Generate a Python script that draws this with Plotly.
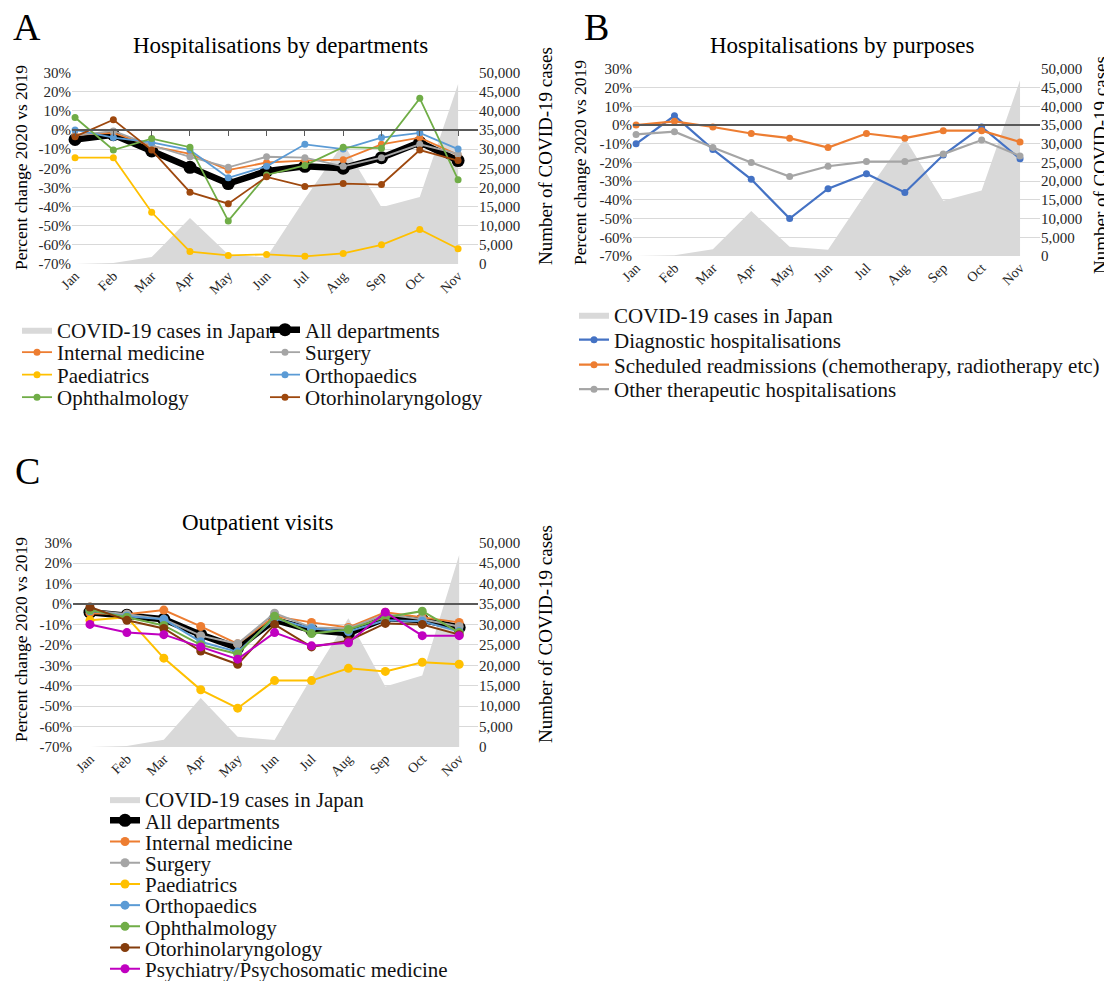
import plotly.graph_objects as go

# ---------------- data ----------------
months = ["Jan", "Feb", "Mar", "Apr", "May", "Jun", "Jul", "Aug", "Sep", "Oct", "Nov"]
covid_cases = [14, 230, 1800, 12000, 2500, 1700, 17000, 31500, 14800, 17500, 47000]

# Panel A: hospitalisations by departments (% change 2020 vs 2019)
a_all = [-5, -2.5, -11, -19.5, -28, -21.5, -19, -20, -14.5, -6.5, -16]
a_internal = [-2.5, -1.5, -8.5, -12.5, -21, -17, -16, -15.5, -7.5, -4, -13]
a_surgery = [-3, -0.5, -8, -14, -19.5, -14, -14.5, -19, -14.5, -7.5, -12.5]
a_paed = [-14.5, -14.5, -43, -63.5, -65.5, -65, -66, -64.5, -60, -52, -62]
a_ortho = [0, -4, -6.5, -10.5, -25, -19, -7.5, -10, -4, -1.5, -10]
a_ophth = [6.5, -10.5, -4.5, -9, -47.5, -23.5, -18.5, -9, -9.5, 16.5, -26]
a_ent = [-3.5, 5.3, -10.5, -32.5, -38.5, -24.5, -29.5, -28, -28.5, -10.5, -16]

# Panel B: hospitalisations by purposes
b_diag = [-10, 5, -13, -29, -50, -34, -26, -36, -16, -1, -18]
b_sched = [0, 2, -1, -4.5, -7, -12, -4.5, -7, -3, -3, -9]
b_other = [-5, -3.5, -12, -20, -27.5, -22, -19.5, -19.5, -15.5, -8, -16.5]

# Panel C: outpatient visits
c_all = [-4, -5.5, -7.5, -15, -21.5, -7.8, -12.7, -14.3, -7, -7.8, -11.5]
c_internal = [-4.5, -5, -3, -11, -19.5, -6, -9, -11.5, -4, -6.5, -9]
c_surgery = [-3, -5, -7.5, -15.5, -19.5, -4.5, -11.5, -12, -5, -7.5, -11]
c_paed = [-8, -6.5, -26.5, -42, -51, -37.5, -37.5, -31.5, -33, -28.5, -29.5]
c_ortho = [-3.3, -6, -7.5, -18.5, -23.5, -7, -12, -13.5, -8, -8.5, -13.5]
c_ophth = [-3, -6.5, -10.5, -20, -24.5, -6, -14.5, -12.5, -6.5, -3.5, -14]
c_ent = [-1.5, -8, -12, -23, -29.5, -10, -21, -18, -9.5, -10, -15]
c_psych = [-10, -14, -15, -21, -27, -14, -20.5, -19, -4, -15.5, -15.5]

pct_ticks = list(range(-70, 31, 10))
pct_labels = [f"{v}%" for v in pct_ticks]
case_ticks = list(range(0, 50001, 5000))

# ---------------- styling ----------------
PAGE_OFF = 8                 # default body margin of the html page
W, H = 1112 - PAGE_OFF, 981 - PAGE_OFF
FONT = "Liberation Serif"
TICKC = "#262626"
ORANGE, GRAY, YELLOW, BLUE, GREEN, BROWN = "#ED7D31", "#A5A5A5", "#FFC000", "#5B9BD5", "#70AD47", "#9E480E"
DBLUE, DBROWN, MAGENTA = "#4472C4", "#843C0C", "#C000C0"
AREA = "#D9D9D9"


def px(x):
    return (x - PAGE_OFF) / W


def py(y):
    return 1 - (y - PAGE_OFF) / H


fig = go.Figure()

panels = {
    "A": dict(base=1, xd=(72, 478), top=72.5, bot=264, rng=[-0.08, 10.52], ticks=True),
    "B": dict(base=3, xd=(633, 1040), top=69, bot=256, rng=[-0.08, 10.52], ticks=False),
    "C": dict(base=5, xd=(73, 478), top=542.7, bot=747, rng=[-0.46, 10.51], ticks=False),
}

layout = {}
for key, p in panels.items():
    b = p["base"]
    o = b + 1
    bs = "" if b == 1 else str(b)
    os_ = str(o)
    ydom = [py(p["bot"]), py(p["top"])]
    layout["xaxis" + bs] = dict(
        domain=[px(p["xd"][0]), px(p["xd"][1])], anchor="y" + bs, type="category",
        categoryorder="array", categoryarray=months, range=p["rng"], automargin=False,
        tickangle=-45, showgrid=False, zeroline=False, showline=False, ticks="",
        tickfont=dict(family=FONT, size=14, color=TICKC))
    layout["yaxis" + bs] = dict(
        domain=ydom, anchor="x" + bs, side="right", range=[0, 50000], tickvals=case_ticks,
        tickformat=",", showgrid=True, gridcolor="#D9D9D9", gridwidth=1, zeroline=False,
        showline=False, ticks="", automargin=False,
        tickfont=dict(family=FONT, size=15, color=TICKC))
    zero_pos = ydom[0] + 0.7 * (ydom[1] - ydom[0])
    layout["xaxis" + os_] = dict(
        overlaying="x" + bs, anchor="free", position=zero_pos, type="category",
        categoryorder="array", categoryarray=months, range=p["rng"], automargin=False,
        showticklabels=False, showgrid=False, zeroline=False, showline=True,
        linecolor="#595959", linewidth=1.5, layer="above traces",
        ticks="outside" if p["ticks"] else "", ticklen=5, tickcolor="#595959", tickwidth=1)
    layout["yaxis" + os_] = dict(
        overlaying="y" + bs, anchor="x" + bs, side="left", range=[-70, 30],
        tickmode="array", tickvals=pct_ticks, ticktext=pct_labels, automargin=False,
        showgrid=False, zeroline=False, showline=False, ticks="",
        tickfont=dict(family=FONT, size=15, color=TICKC))

legend_count = [0]
legends = {}


def add_legend(lx, ly):
    legend_count[0] += 1
    n = legend_count[0]
    name = "legend" if n == 1 else f"legend{n}"
    legends[name] = dict(
        x=px(lx), y=py(ly), xanchor="left", yanchor="middle", bgcolor="rgba(0,0,0,0)",
        font=dict(family=FONT, size=21, color="#111111"), itemwidth=30,
        borderwidth=0, tracegroupgap=0)
    return name


def add_area(panel, lx, ly):
    b = panels[panel]["base"]
    bs = "" if b == 1 else str(b)
    fig.add_trace(go.Scatter(
        x=months, y=covid_cases, name="COVID-19 cases in Japan", mode="lines",
        fill="tozeroy", fillcolor=AREA, line=dict(width=0, color=AREA),
        xaxis="x" + bs, yaxis="y" + bs, legend=add_legend(lx, ly)))


def add_line(panel, name, vals, color, lx, ly, width=1.8, msize=7):
    o = panels[panel]["base"] + 1
    fig.add_trace(go.Scatter(
        x=months, y=vals, name=name, mode="lines+markers",
        line=dict(color=color, width=width), marker=dict(color=color, size=msize),
        cliponaxis=False, xaxis="x" + str(o), yaxis="y" + str(o),
        legend=add_legend(lx, ly)))


# Panel A
c1, c2 = 17, 265
rowsA = [330, 352.5, 375, 397.5]
add_area("A", c1, rowsA[0])
add_line("A", "All departments", a_all, "#000000", c2, rowsA[0], width=6.5, msize=13)
add_line("A", "Internal medicine", a_internal, ORANGE, c1, rowsA[1])
add_line("A", "Surgery", a_surgery, GRAY, c2, rowsA[1])
add_line("A", "Paediatrics", a_paed, YELLOW, c1, rowsA[2])
add_line("A", "Orthopaedics", a_ortho, BLUE, c2, rowsA[2])
add_line("A", "Ophthalmology", a_ophth, GREEN, c1, rowsA[3])
add_line("A", "Otorhinolaryngology", a_ent, BROWN, c2, rowsA[3])

# Panel B
cb = 574
rowsB = [315, 340, 365, 389.5]
add_area("B", cb, rowsB[0])
add_line("B", "Diagnostic hospitalisations", b_diag, DBLUE, cb, rowsB[1], width=2.2)
add_line("B", "Scheduled readmissions (chemotherapy, radiotherapy etc)", b_sched, ORANGE, cb, rowsB[2], width=2.2)
add_line("B", "Other therapeutic hospitalisations", b_other, GRAY, cb, rowsB[3], width=2.2)

# Panel C
cc = 105
rowsC = [799.5 + 21.2 * i for i in range(9)]
add_area("C", cc, rowsC[0])
add_line("C", "All departments", c_all, "#000000", cc, rowsC[1], width=6.5, msize=13)
add_line("C", "Internal medicine", c_internal, ORANGE, cc, rowsC[2], width=2, msize=9)
add_line("C", "Surgery", c_surgery, GRAY, cc, rowsC[3], width=2, msize=9)
add_line("C", "Paediatrics", c_paed, YELLOW, cc, rowsC[4], width=2, msize=9)
add_line("C", "Orthopaedics", c_ortho, BLUE, cc, rowsC[5], width=2, msize=9)
add_line("C", "Ophthalmology", c_ophth, GREEN, cc, rowsC[6], width=2, msize=9)
add_line("C", "Otorhinolaryngology", c_ent, DBROWN, cc, rowsC[7], width=2, msize=9)
add_line("C", "Psychiatry/Psychosomatic medicine", c_psych, MAGENTA, cc, rowsC[8], width=2, msize=9)

# ---------------- annotations ----------------
ann = []


def text(x, y, s, size, angle=0, xanchor="center"):
    ann.append(dict(x=px(x), y=py(y), xref="paper", yref="paper", text=s, showarrow=False,
                    textangle=angle, xanchor=xanchor, yanchor="middle",
                    font=dict(family=FONT, size=size, color="#000000")))


text(27, 27, "A", 38)
text(596, 27, "B", 38)
text(27, 471, "C", 38)
text(280, 46, "Hospitalisations by departments", 23)
text(842, 45, "Hospitalisations by purposes", 23)
text(257, 522, "Outpatient visits", 23)

ylab = "Percent change 2020 vs 2019"
rlab = "Number of COVID-19 cases"
text(21, 168, ylab, 17.5, angle=-90)
text(545, 156, rlab, 19, angle=-90)
text(580, 163, ylab, 17.5, angle=-90)
text(1101, 165, rlab, 19, angle=-90)
text(21, 640, ylab, 17.5, angle=-90)
text(545, 634, rlab, 19, angle=-90)

fig.update_layout(
    width=W, height=H, margin=dict(l=0, r=0, t=0, b=0, autoexpand=False),
    paper_bgcolor="white", plot_bgcolor="white", showlegend=True,
    annotations=ann, **layout, **legends,
)

fig.write_html("out.html")
